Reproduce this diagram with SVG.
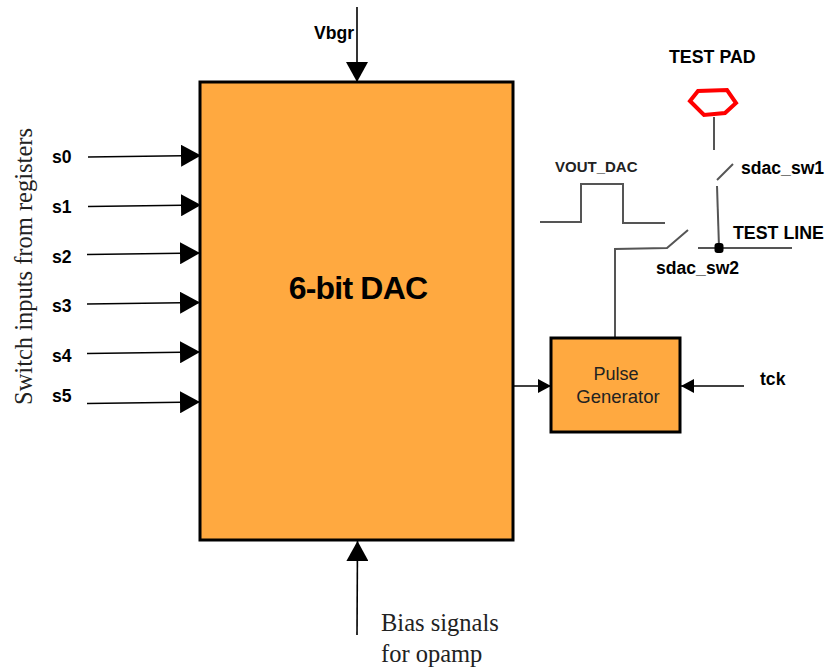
<svg xmlns="http://www.w3.org/2000/svg" width="827" height="667" viewBox="0 0 827 667">
<defs>
<style>
.box{fill:#ffa940;stroke:#000;stroke-width:3}
.s{font:bold 17.600px "Liberation Sans",Arial,sans-serif;fill:#000}
.l{font:bold 17.800px "Liberation Sans",Arial,sans-serif;fill:#000}
.r{font:24.500px "Liberation Serif","Times New Roman",serif;fill:#222}
.w{fill:none;stroke:#555;stroke-width:2}
.a{fill:none;stroke:#000;stroke-width:1.6}
</style>
<marker id="ah" markerUnits="userSpaceOnUse" markerWidth="21" markerHeight="22" refX="20" refY="11" orient="auto"><path d="M0 0L20 11L0 22Z" fill="#000"/></marker>
<marker id="am" markerUnits="userSpaceOnUse" markerWidth="13" markerHeight="14" refX="13" refY="7" orient="auto"><path d="M0 0L13 7L0 14Z" fill="#000"/></marker>
</defs>
<g id="connectors">
<path class="a" d="M88 157L201 155.500" marker-end="url(#ah)"/>
<path class="a" d="M88 206.500L201 205" marker-end="url(#ah)"/>
<path class="a" d="M87 254.500L200 253" marker-end="url(#ah)"/>
<path class="a" d="M87 304L200 302.500" marker-end="url(#ah)"/>
<path class="a" d="M87 353.500L200 352" marker-end="url(#ah)"/>
<path class="a" d="M87 403.500L200 402" marker-end="url(#ah)"/>
<path class="a" d="M357 7V82" marker-end="url(#ah)"/>
<path class="a" d="M357 635L357.500 541" marker-end="url(#ah)"/>
<path class="a" d="M513 386H551" marker-end="url(#am)"/>
<path class="a" d="M744 386H681" marker-end="url(#am)"/>
<path class="w" d="M714 117V150"/>
<path class="w" d="M717 180L733 164" stroke-width="1.500"/>
<path class="w" d="M717 186L719 247" stroke-width="1.600"/>
<path class="w" d="M698 248H792"/>
<path class="w" d="M540 222H581V184H623V223H665"/>
<path class="w" d="M615 341V249L667 248L688 230" stroke-width="1.600"/>
<rect x="714.500" y="243" width="9" height="10" rx="3" fill="#000"/>
</g>
<g id="dac"><rect class="box" x="200" y="82" width="313" height="458"/>
<text x="358" y="299" text-anchor="middle" style="font:bold 32px 'Liberation Sans',Arial,sans-serif;letter-spacing:-.8px" fill="#000">6-bit DAC</text></g>
<g id="pulse-generator"><rect class="box" x="551" y="338" width="129" height="94"/>
<text x="616" y="380" text-anchor="middle" style="font:18px 'Liberation Sans',Arial,sans-serif" fill="#222">Pulse</text>
<text x="618" y="403" text-anchor="middle" style="font:18.500px 'Liberation Sans',Arial,sans-serif" fill="#222">Generator</text></g>
<g id="test-pad"><path d="M690 101L698 91L727 90L736 103L725 113L704 115Z" fill="none" stroke="#f00" stroke-width="4"/>
<text class="l" x="669" y="63">TEST PAD</text></g>
<g id="labels">
<text class="s" x="52" y="163">s0</text><text class="s" x="52" y="213">s1</text><text class="s" x="52" y="263">s2</text><text class="s" x="52" y="312">s3</text><text class="s" x="52" y="362">s4</text><text class="s" x="52" y="402">s5</text>
<text class="s" x="314" y="39">Vbgr</text>
<text class="r" transform="translate(32 405) rotate(-90)">Switch inputs from registers</text>
<text x="555" y="172" style="font:bold 15px 'Liberation Sans',Arial,sans-serif;fill:#222">VOUT_DAC</text>
<text class="s" x="741" y="174">sdac_sw1</text>
<text class="s" x="656" y="274">sdac_sw2</text>
<text class="l" x="733" y="239">TEST LINE</text>
<text class="s" x="760" y="385">tck</text>
<text x="381" y="631" class="r">Bias signals</text>
<text x="381" y="662" class="r">for opamp</text>
</g>
</svg>
